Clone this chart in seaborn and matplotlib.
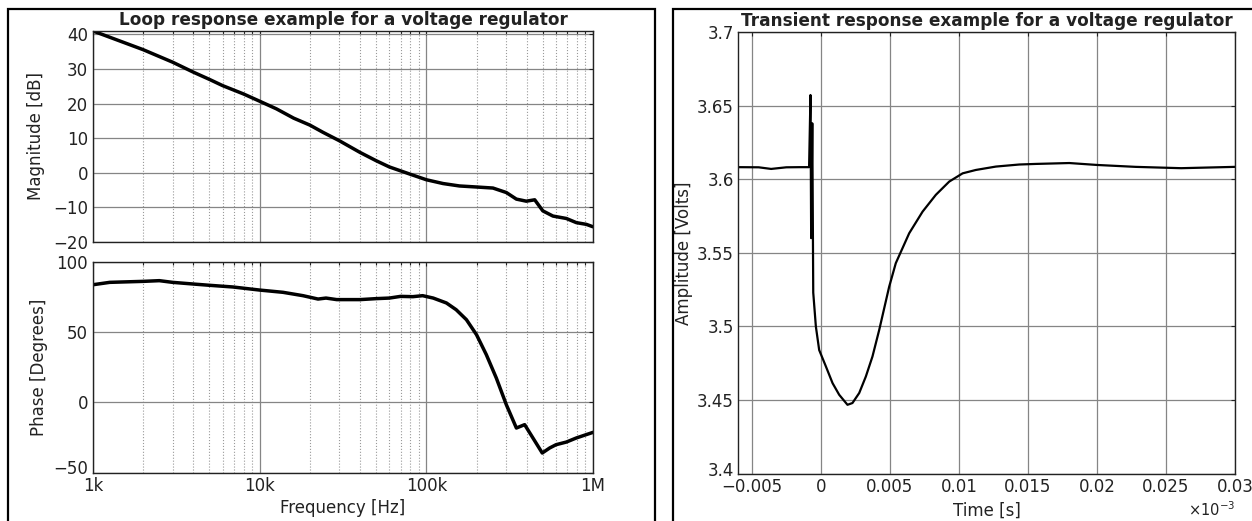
import numpy as np
import pandas as pd
import matplotlib
matplotlib.use("Agg")
import matplotlib.pyplot as plt
from matplotlib.patches import Rectangle
from matplotlib.ticker import FixedLocator, NullFormatter, LogLocator
from matplotlib.transforms import ScaledTranslation
import seaborn as sns

# ---------------- data ----------------
mag_freq = [1e3, 2e3, 3e3, 4e3, 5e3, 6e3, 8e3, 1e4, 1.26e4, 1.6e4, 2e4, 2.4e4, 3e4,
            4e4, 5e4, 6e4, 8e4, 1e5, 1.26e5, 1.58e5, 2e5, 2.51e5, 3.02e5, 3.47e5,
            3.98e5, 4.47e5, 5e5, 5.75e5, 6.92e5, 7.94e5, 9.12e5, 1e6]
mag_db = [41, 35.6, 32.0, 29.1, 27.0, 25.2, 22.8, 20.7, 18.5, 15.8, 13.8, 11.7, 9.3,
          5.9, 3.5, 1.7, -0.4, -2.0, -3.1, -3.8, -4.1, -4.4, -5.7, -7.6,
          -8.2, -7.8, -11.0, -12.5, -13.2, -14.4, -14.9, -15.6]

ph_freq = [1e3, 1.26e3, 2e3, 2.5e3, 3e3, 4e3, 5e3, 6.9e3, 1e4, 1.38e4, 1.82e4, 2.24e4,
           2.5e4, 2.9e4, 4e4, 5e4, 6e4, 7e4, 8.3e4, 9.5e4, 1.1e5, 1.32e5, 1.51e5,
           1.74e5, 2e5, 2.29e5, 2.63e5, 3.02e5, 3.47e5, 3.89e5, 4.96e5, 5.5e5, 6e5,
           6.92e5, 7.94e5, 1e6]
ph_deg = [83.8, 85.5, 86.2, 86.7, 85.5, 84.3, 83.4, 82.2, 80.0, 78.4, 76.0, 73.6,
          74.3, 73.2, 73.2, 73.9, 74.3, 75.5, 75.3, 76.0, 74.3, 70.8, 66.0,
          58.9, 48.2, 34.0, 17.3, -1.7, -18.3, -15.9, -36.1, -32.5, -30.2,
          -28.3, -25.4, -21.4]

tr_time = [-0.006, -0.0045, -0.0036, -0.0025, -0.0015, -0.00085, -0.00075, -0.0007,
           -0.00062, -0.00055, -0.00036, -0.00012, 0.00036, 0.00085, 0.00133, 0.00193,
           0.00229, 0.00278, 0.00326, 0.00374, 0.00423, 0.00495, 0.00543, 0.0064,
           0.00737, 0.00833, 0.0093, 0.01027, 0.01123, 0.01268, 0.01437, 0.01558,
           0.018, 0.02, 0.0228, 0.0261, 0.03]
tr_volt = [3.6082, 3.6081, 3.6070, 3.6081, 3.6082, 3.6082, 3.6572, 3.5600,
           3.6380, 3.5230, 3.5000, 3.4840, 3.4730, 3.4615, 3.4536, 3.4468,
           3.4480, 3.4548, 3.4660, 3.4796, 3.4977, 3.5270, 3.5430, 3.5633,
           3.5780, 3.5894, 3.5984, 3.6040, 3.6063, 3.6086, 3.6100, 3.6104,
           3.6110, 3.6097, 3.6084, 3.6075, 3.6084]

freq_ticks = [1e3, 1e4, 1e5, 1e6]
freq_labels = ["1k", "10k", "100k", "1M"]
mag_ticks = [-20, -10, 0, 10, 20, 30, 40]
ph_ticks = [-50, 0, 50, 100]
t_ticks = [-0.005, 0, 0.005, 0.01, 0.015, 0.02, 0.025, 0.03]
t_labels = ["\u22120.005", "0", "0.005", "0.01", "0.015", "0.02", "0.025", "0.03"]
v_ticks = [3.4, 3.45, 3.5, 3.55, 3.6, 3.65, 3.7]
v_labels = ["3.4", "3.45", "3.5", "3.55", "3.6", "3.65", "3.7"]

# ---------------- style ----------------
sns.set_theme(style="white")
plt.rcParams["font.family"] = ["DejaVu Sans"]
plt.rcParams["axes.unicode_minus"] = True

W, H = 1252, 521
fig = plt.figure(figsize=(W / 100, H / 100), dpi=100)
fig.patch.set_facecolor("white")

def fx(px):
    return px / W

def fy(py):
    return 1 - py / H

ax_mag = fig.add_axes([fx(93), fy(242), fx(593) - fx(93), fy(31) - fy(242)])
ax_ph = fig.add_axes([fx(93), fy(472.5), fx(593) - fx(93), fy(262) - fy(472.5)])
ax_tr = fig.add_axes([fx(738), fy(473.7), fx(1235) - fx(738), fy(32) - fy(473.7)])

# panel frames
fig.add_artist(Rectangle((fx(8), fy(540)), fx(655) - fx(8), fy(9) - fy(540),
                         transform=fig.transFigure, fill=False, lw=1.6,
                         edgecolor="black", clip_on=False))
fig.add_artist(Rectangle((fx(673), fy(540)), fx(1270) - fx(673), fy(9) - fy(540),
                         transform=fig.transFigure, fill=False, lw=1.6,
                         edgecolor="black", clip_on=False))

df_mag = pd.DataFrame({"f": mag_freq, "m": mag_db})
df_ph = pd.DataFrame({"f": ph_freq, "p": ph_deg})
df_tr = pd.DataFrame({"t": tr_time, "v": tr_volt})

fs = 12
tfs = 12.2
tcol = "#222222"

def style_log(ax, ylim, yticks):
    ax.set_xscale("log")
    ax.set_xlim(1e3, 1e6)
    ax.set_ylim(*ylim)
    ax.set_yticks(yticks)
    ax.xaxis.set_major_locator(FixedLocator(freq_ticks))
    ax.xaxis.set_minor_locator(LogLocator(base=10, subs=np.arange(2, 10)))
    ax.xaxis.set_minor_formatter(NullFormatter())
    ax.grid(True, which="major", color="#858585", lw=0.9, ls="-")
    ax.grid(True, which="minor", axis="x", color="#9a9a9a", lw=0.8, ls=":")
    ax.tick_params(direction="in", which="both", top=True, right=True,
                   labelsize=fs, length=3, width=0.8, colors=tcol)
    ax.tick_params(which="minor", length=2)
    for s in ax.spines.values():
        s.set_color(tcol)
        s.set_linewidth(1.0)

def lift_first_ylabel(ax, dy_px):
    lab = ax.yaxis.get_major_ticks()[0].label1
    lab.set_transform(lab.get_transform() +
                      ScaledTranslation(0, dy_px / 100, fig.dpi_scale_trans))

sns.lineplot(data=df_mag, x="f", y="m", ax=ax_mag, color="black", lw=2.5)
style_log(ax_mag, (-20, 41), mag_ticks)
ax_mag.set_xticklabels([])
ax_mag.set_xlabel("")
ax_mag.set_ylabel("Magnitude [dB]", fontsize=fs, labelpad=6, color=tcol)
ax_mag.set_title("Loop response example for a voltage regulator",
                 fontsize=tfs, fontweight="bold", pad=4.5, color=tcol)

sns.lineplot(data=df_ph, x="f", y="p", ax=ax_ph, color="black", lw=2.5)
style_log(ax_ph, (-50, 100), ph_ticks)
ax_ph.set_xticklabels(freq_labels)
ax_ph.set_xlabel("Frequency [Hz]", fontsize=fs, labelpad=3, color=tcol)
ax_ph.set_ylabel("Phase [Degrees]", fontsize=fs, labelpad=4, color=tcol)
ax_ph.tick_params(axis="x", pad=3)
lift_first_ylabel(ax_ph, 5)

sns.lineplot(data=df_tr, x="t", y="v", ax=ax_tr, color="black", lw=1.6,
             sort=False, estimator=None)
ax_tr.set_xlim(-0.006, 0.03)
ax_tr.set_ylim(3.4, 3.7)
ax_tr.set_xticks(t_ticks)
ax_tr.set_xticklabels(t_labels)
ax_tr.set_yticks(v_ticks)
ax_tr.set_yticklabels(v_labels)
ax_tr.grid(True, color="#858585", lw=0.9)
ax_tr.tick_params(direction="in", top=True, right=True, labelsize=fs,
                  length=3, width=0.8, colors=tcol, pad=3)
for s in ax_tr.spines.values():
    s.set_color(tcol)
    s.set_linewidth(1.0)
ax_tr.set_xlabel("Time [s]", fontsize=fs, labelpad=4, color=tcol)
ax_tr.set_ylabel("Amplitude [Volts]", fontsize=fs, labelpad=3, color=tcol)
ax_tr.set_title("Transient response example for a voltage regulator",
                fontsize=tfs, fontweight="bold", pad=4.5, color=tcol)
lift_first_ylabel(ax_tr, 5)
ax_tr.text(1.0, (473.7 - 519.5) / 441.7, r"$\times10^{-3}$", transform=ax_tr.transAxes,
           ha="right", va="bottom", fontsize=fs - 1.5, color=tcol)

fig.savefig("out.png", dpi=100, facecolor="white")
